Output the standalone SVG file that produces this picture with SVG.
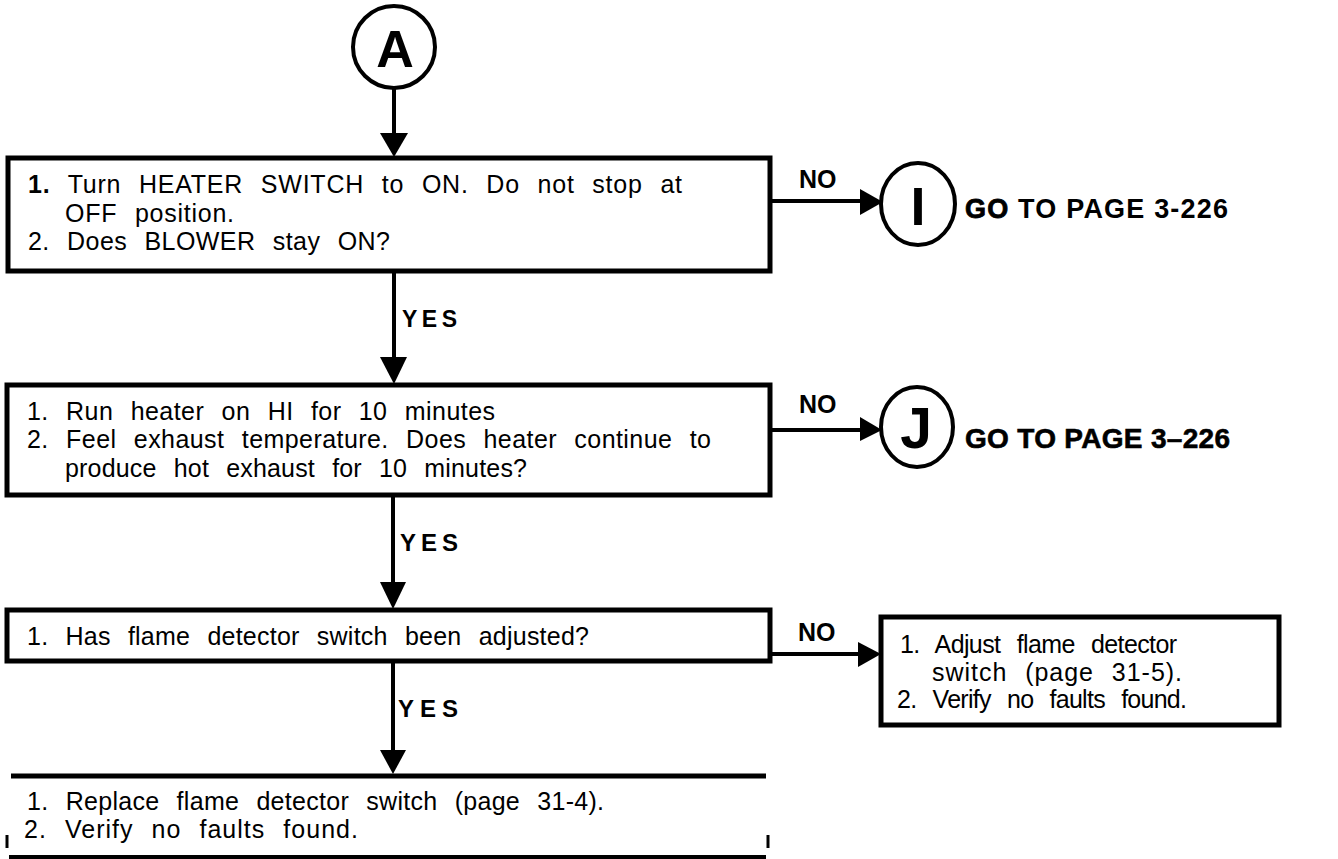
<svg xmlns="http://www.w3.org/2000/svg" width="1338" height="859" viewBox="0 0 1338 859">
<style>
.box{fill:#fff;stroke:#000;stroke-width:5}
.circ{fill:#fff;stroke:#000;stroke-width:4}
.t{font-family:"Liberation Sans",Arial,sans-serif;font-size:25px;fill:#000;word-spacing:10px}
.b{font-family:"Liberation Sans",Arial,sans-serif;font-weight:bold;fill:#000}
.lbl{font-size:25px}
.big{font-size:54px}
.go{font-size:27px}
.ln{stroke:#000;stroke-width:4;fill:none}
.ah{fill:#000}
</style>
<rect width="1338" height="859" fill="#fff"/>
<g id="connectors">
<line class="ln" x1="394" y1="88" x2="394" y2="135"/>
<polygon class="ah" points="380,133 408,133 394,157"/>
<line class="ln" x1="394" y1="273" x2="394" y2="359"/>
<polygon class="ah" points="380,357 407,357 394,384"/>
<line class="ln" x1="393" y1="497" x2="393" y2="584"/>
<polygon class="ah" points="380,582 406,582 393,609"/>
<line class="ln" x1="393" y1="663" x2="393" y2="752"/>
<polygon class="ah" points="380,750 406,750 393,774"/>
<line class="ln" x1="772" y1="201" x2="862" y2="201"/>
<polygon class="ah" points="860,189 860,215 883,202"/>
<line class="ln" x1="772" y1="430" x2="862" y2="430"/>
<polygon class="ah" points="860,417 860,441 882,430"/>
<line class="ln" x1="772" y1="654" x2="860" y2="654"/>
<polygon class="ah" points="858,642 858,667 881,654"/>
<text class="b lbl" x="799" y="188">NO</text>
<text class="b lbl" x="799" y="413">NO</text>
<text class="b lbl" x="798" y="641">NO</text>
<text class="b" x="402" y="327" font-size="23" textLength="55">YES</text>
<text class="b" x="400" y="551" font-size="24" textLength="58">YES</text>
<text class="b" x="398" y="717" font-size="24" textLength="60">YES</text>
</g>
<g id="nodeA">
<circle class="circ" cx="394" cy="47" r="41"/>
<text class="b" x="395" y="67" font-size="52" text-anchor="middle">A</text>
</g>
<g id="box1">
<rect class="box" x="8" y="158" width="762" height="113"/>
<text class="t" x="28" y="193" textLength="654"><tspan font-weight="bold">1.</tspan> Turn HEATER SWITCH to ON. Do not stop at</text>
<text class="t" x="65" y="222" textLength="169">OFF position.</text>
<text class="t" x="28" y="250" textLength="362">2. Does BLOWER stay ON?</text>
</g>
<g id="nodeI">
<ellipse class="circ" cx="918" cy="204" rx="37" ry="41"/>
<text class="b big" x="918" y="225" text-anchor="middle">I</text>
<text class="b go" x="965" y="218" textLength="263"><tspan stroke="#000" stroke-width="0.8">GO</tspan> TO PAGE 3-226</text>
</g>
<g id="box2">
<rect class="box" x="7" y="385" width="763" height="110"/>
<text class="t" x="27" y="420" textLength="468">1. Run heater on HI for 10 minutes</text>
<text class="t" x="27" y="448" textLength="684">2. Feel exhaust temperature. Does heater continue to</text>
<text class="t" x="65" y="477" textLength="462">produce hot exhaust for 10 minutes?</text>
</g>
<g id="nodeJ">
<ellipse class="circ" cx="917" cy="427" rx="36" ry="40"/>
<text class="b" x="916" y="448" font-size="57" text-anchor="middle">J</text>
<text class="b" x="965" y="448" font-size="28" textLength="265" stroke="#000" stroke-width="0.6">GO TO PAGE 3–226</text>
</g>
<g id="box3">
<rect class="box" x="7" y="610" width="763" height="51"/>
<text class="t" x="27" y="645" textLength="562">1. Has flame detector switch been adjusted?</text>
</g>
<g id="box5">
<rect class="box" x="881" y="617" width="398" height="108"/>
<text class="t" x="900" y="653" textLength="277">1. Adjust flame detector</text>
<text class="t" x="932" y="681" textLength="250">switch (page 31-5).</text>
<text class="t" x="897" y="708" textLength="290">2. Verify no faults found.</text>
</g>
<g id="box4">
<line x1="11" y1="776" x2="766" y2="776" stroke="#000" stroke-width="5"/>
<line x1="9" y1="857" x2="766" y2="857" stroke="#000" stroke-width="4"/>
<line x1="7" y1="835" x2="7" y2="848" stroke="#000" stroke-width="3"/>
<line x1="768" y1="835" x2="768" y2="848" stroke="#000" stroke-width="3"/>
<text class="t" x="27" y="810" textLength="577">1. Replace flame detector switch (page 31-4).</text>
<text class="t" x="24" y="838" textLength="334">2. Verify no faults found.</text>
</g>
</svg>
